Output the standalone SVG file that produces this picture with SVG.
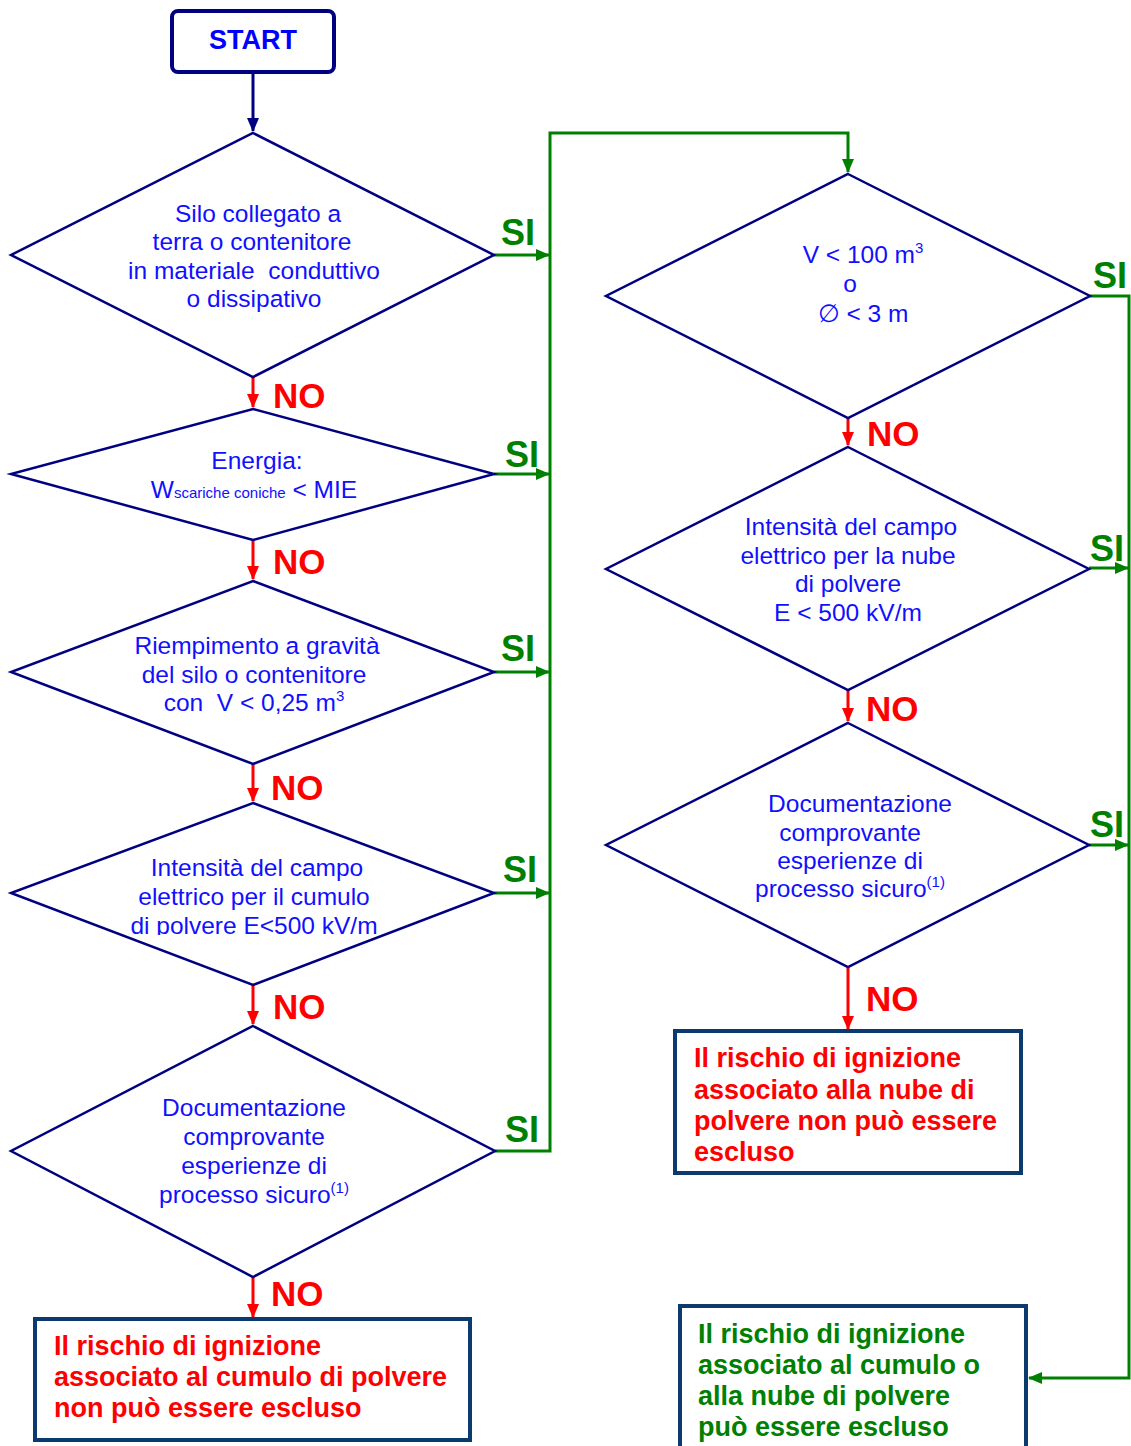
<svg xmlns="http://www.w3.org/2000/svg" width="1131" height="1446" viewBox="0 0 1131 1446">
<style>
.dia{fill:#fff;stroke:#000080;stroke-width:2.5}
.dt{font-family:"Liberation Sans",Arial,sans-serif;font-size:24.5px;fill:#1010ff;text-anchor:middle}
.no{font-family:"Liberation Sans",Arial,sans-serif;font-size:35px;font-weight:bold;fill:#ff0000}
.si{font-family:"Liberation Sans",Arial,sans-serif;font-size:36px;font-weight:bold;fill:#008000}
.box{fill:#fff;stroke:#0b3a6e;stroke-width:4}
.bt{font-family:"Liberation Sans",Arial,sans-serif;font-size:27px;font-weight:bold}
.g{fill:none;stroke:#008000;stroke-width:3}
.r{fill:none;stroke:#ff0000;stroke-width:3}
.n{fill:none;stroke:#000080;stroke-width:3}
.sup{font-size:15px}
</style>
<defs>
<marker id="ag" markerUnits="userSpaceOnUse" markerWidth="14" markerHeight="12" refX="13" refY="6" orient="auto"><path d="M0,0 L14,6 L0,12 z" fill="#008000"/></marker>
<marker id="ar" markerUnits="userSpaceOnUse" markerWidth="14" markerHeight="12" refX="13" refY="6" orient="auto"><path d="M0,0 L14,6 L0,12 z" fill="#ff0000"/></marker>
<marker id="an" markerUnits="userSpaceOnUse" markerWidth="14" markerHeight="12" refX="13" refY="6" orient="auto"><path d="M0,0 L14,6 L0,12 z" fill="#000080"/></marker>
<clipPath id="c4"><rect x="0" y="800" width="560" height="135"/></clipPath>
</defs>

<g id="connectors">
<path class="n" d="M253,72 V131" marker-end="url(#an)"/>
<path class="r" d="M253,377 V407" marker-end="url(#ar)"/>
<path class="r" d="M253,540 V579" marker-end="url(#ar)"/>
<path class="r" d="M253,764 V801" marker-end="url(#ar)"/>
<path class="r" d="M253,985 V1024" marker-end="url(#ar)"/>
<path class="r" d="M253,1277 V1317" marker-end="url(#ar)"/>
<path class="r" d="M848,418 V445" marker-end="url(#ar)"/>
<path class="r" d="M848,690 V721" marker-end="url(#ar)"/>
<path class="r" d="M848,967 V1029" marker-end="url(#ar)"/>
<path class="g" d="M494,255 H549" marker-end="url(#ag)"/>
<path class="g" d="M494,474 H549" marker-end="url(#ag)"/>
<path class="g" d="M494,672 H549" marker-end="url(#ag)"/>
<path class="g" d="M494,893 H549" marker-end="url(#ag)"/>
<path class="g" d="M495,1151 H550 V133 H848 V172" marker-end="url(#ag)"/>
<path class="g" d="M1090,296 H1129 V1378 H1029" marker-end="url(#ag)"/>
<path class="g" d="M1089,568 H1128" marker-end="url(#ag)"/>
<path class="g" d="M1089,845 H1128" marker-end="url(#ag)"/>
<text class="no" x="273" y="408">NO</text>
<text class="no" x="273" y="574">NO</text>
<text class="no" x="271" y="800">NO</text>
<text class="no" x="273" y="1019">NO</text>
<text class="no" x="271" y="1306">NO</text>
<text class="no" x="867" y="446">NO</text>
<text class="no" x="866" y="721">NO</text>
<text class="no" x="866" y="1011">NO</text>
<text class="si" x="501" y="245">SI</text>
<text class="si" x="505" y="467">SI</text>
<text class="si" x="501" y="661">SI</text>
<text class="si" x="503" y="882">SI</text>
<text class="si" x="505" y="1142">SI</text>
<text class="si" x="1093" y="288">SI</text>
<text class="si" x="1090" y="561">SI</text>
<text class="si" x="1090" y="837">SI</text>
</g>

<g id="start">
<rect x="172" y="11" width="162" height="61" rx="6" fill="#fff" stroke="#000080" stroke-width="4"/>
<text x="253" y="49" font-family="Liberation Sans,Arial,sans-serif" font-size="27" font-weight="bold" fill="#0000ff" text-anchor="middle">START</text>
</g>

<g id="d1">
<polygon class="dia" points="253,133 494,255 253,377 11,255"/>
<text class="dt" x="258" y="222">Silo collegato a</text>
<text class="dt" x="252" y="250">terra o contenitore</text>
<text class="dt" x="254" y="279" xml:space="preserve">in materiale  conduttivo</text>
<text class="dt" x="254" y="307">o dissipativo</text>
</g>

<g id="d2">
<polygon class="dia" points="253,409 494,474 253,540 11,474"/>
<text class="dt" x="257" y="469">Energia:</text>
<text class="dt" x="254" y="498">W<tspan font-size="15">scariche coniche</tspan> &lt; MIE</text>
</g>

<g id="d3">
<polygon class="dia" points="253,581 494,672 253,764 11,672"/>
<text class="dt" x="257" y="654">Riempimento a gravità</text>
<text class="dt" x="254" y="683">del silo o contenitore</text>
<text class="dt" x="254" y="711" xml:space="preserve">con  V &lt; 0,25 m<tspan class="sup" dy="-10">3</tspan></text>
</g>

<g id="d4">
<polygon class="dia" points="253,803 494,893 253,985 11,893"/>
<g clip-path="url(#c4)">
<text class="dt" x="257" y="876">Intensità del campo</text>
<text class="dt" x="254" y="905">elettrico per il cumulo</text>
<text class="dt" x="254" y="934">di polvere E&lt;500 kV/m</text>
</g>
</g>

<g id="d5">
<polygon class="dia" points="253,1026 495,1151 253,1277 11,1151"/>
<text class="dt" x="254" y="1116">Documentazione</text>
<text class="dt" x="254" y="1145">comprovante</text>
<text class="dt" x="254" y="1174">esperienze di</text>
<text class="dt" x="254" y="1203">processo sicuro<tspan class="sup" dy="-10">(1)</tspan></text>
</g>

<g id="box1">
<rect class="box" x="35" y="1319" width="435" height="121"/>
<text class="bt" fill="#ff0000" x="54" y="1355">Il rischio di ignizione</text>
<text class="bt" fill="#ff0000" x="54" y="1386">associato al cumulo di polvere</text>
<text class="bt" fill="#ff0000" x="54" y="1417">non può essere escluso</text>
</g>

<g id="r1">
<polygon class="dia" points="848,174 1090,296 848,418 606,296"/>
<text class="dt" x="863" y="263">V &lt; 100 m<tspan class="sup" dy="-10">3</tspan></text>
<text class="dt" x="850" y="292">o</text>
<text class="dt" x="863" y="322">∅ &lt; 3 m</text>
</g>

<g id="r2">
<polygon class="dia" points="848,447 1089,569 848,690 606,569"/>
<text class="dt" x="851" y="535">Intensità del campo</text>
<text class="dt" x="848" y="564">elettrico per la nube</text>
<text class="dt" x="848" y="592">di polvere</text>
<text class="dt" x="848" y="621">E &lt; 500 kV/m</text>
</g>

<g id="r3">
<polygon class="dia" points="848,723 1089,845 848,967 606,845"/>
<text class="dt" x="860" y="812">Documentazione</text>
<text class="dt" x="850" y="841">comprovante</text>
<text class="dt" x="850" y="869">esperienze di</text>
<text class="dt" x="850" y="897">processo sicuro<tspan class="sup" dy="-10">(1)</tspan></text>
</g>

<g id="box2">
<rect class="box" x="675" y="1031" width="346" height="142"/>
<text class="bt" fill="#ff0000" x="694" y="1067">Il rischio di ignizione</text>
<text class="bt" fill="#ff0000" x="694" y="1099">associato alla nube di</text>
<text class="bt" fill="#ff0000" x="694" y="1130">polvere non può essere</text>
<text class="bt" fill="#ff0000" x="694" y="1161">escluso</text>
</g>

<g id="box3">
<rect class="box" x="680" y="1306" width="346" height="160"/>
<text class="bt" fill="#008000" x="698" y="1343">Il rischio di ignizione</text>
<text class="bt" fill="#008000" x="698" y="1374">associato al cumulo o</text>
<text class="bt" fill="#008000" x="698" y="1405">alla nube di polvere</text>
<text class="bt" fill="#008000" x="698" y="1436">può essere escluso</text>
</g>
</svg>
